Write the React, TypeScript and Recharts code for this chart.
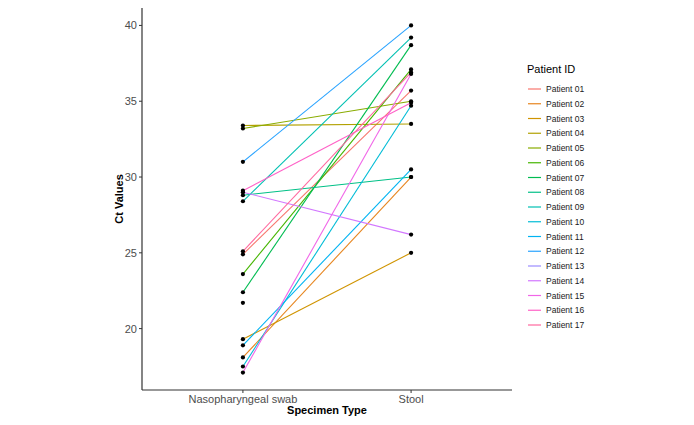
import React from 'react'
import {
    ComposedChart,
    Line,
    Scatter,
    XAxis,
    YAxis,
    Legend
} from 'recharts'

const specimenTypes = ['Nasopharyngeal swab', 'Stool']

const patientIds = [
    'Patient 01', 'Patient 02', 'Patient 03', 'Patient 04', 'Patient 05', 'Patient 06',
    'Patient 07', 'Patient 08', 'Patient 09', 'Patient 10', 'Patient 11', 'Patient 12',
    'Patient 13', 'Patient 14', 'Patient 15', 'Patient 16', 'Patient 17'
]

// Ct values per patient, same order as patientIds
const swabCt = [24.9, 18.1, 19.3, 33.4, 33.2, 23.6, 22.4, 28.8, 28.4, 17.5, 18.9, 31.0, 21.7, 29.0, 17.1, 29.1, 25.1]
const stoolCt: (number | null)[] = [35.7, 30.0, 25.0, 33.5, 35.0, 37.1, 38.7, 30.0, 39.2, 34.7, 30.5, 40.0, null, 26.2, 36.8, 34.9, 36.9]

const yTicks = [20, 25, 30, 35, 40]

// ggplot default hue palette for 17 groups
const colors = [
    '#F8766D', '#E7851E', '#D09400', '#B2A100', '#89AC00', '#45B500',
    '#00BC51', '#00C087', '#00C0B2', '#00BCD6', '#00B3F2', '#29A3FF',
    '#9C8DFF', '#D277FF', '#F166E8', '#FF61C7', '#FF689E'
]

const FONT = '"Liberation Sans", Arial, sans-serif'

const seriesData = patientIds.map((id, i) => ({
    id,
    color: colors[i],
    points: [
        { x: 1, y: swabCt[i] },
        { x: 2, y: stoolCt[i] }
    ]
}))

const allPoints = seriesData.flatMap((s) => s.points.filter((p) => p.y !== null))

const renderLegend = () => (
    <svg width={170} height={280} style={{ fontFamily: FONT, display: 'block' }}>
        <text x={7} y={16} fontSize={11} fill="#000">Patient ID</text>
        {patientIds.map((id, i) => {
            const cy = 32 + i * 14.75
            return (
                <g key={id}>
                    <line x1={8} x2={21} y1={cy} y2={cy} stroke={colors[i]} strokeWidth={1.2} />
                    <text x={26} y={cy + 3} fontSize={8.5} fill="#1a1a1a">{id}</text>
                </g>
            )
        })}
    </svg>
)

const App = () => {
    return (
        <div style={{ position: 'absolute', left: 0, top: 0, background: '#fff' }}>
            <ComposedChart
                width={694}
                height={425}
                // legend (170 wide) is added to the right offset by recharts
                margin={{ top: 8, right: 12, bottom: 1, left: 0 }}
                style={{ fontFamily: FONT }}
            >
                <XAxis
                    type="number"
                    dataKey="x"
                    domain={[0.4, 2.6]}
                    ticks={[1, 2]}
                    tickFormatter={(v: number) => specimenTypes[v - 1]}
                    height={34}
                    allowDataOverflow
                    axisLine={{ stroke: '#333', strokeWidth: 1.2 }}
                    tickLine={{ stroke: '#333' }}
                    tickSize={3}
                    tick={{ fill: '#4D4D4D', fontSize: 11 }}
                    label={{
                        content: () => (
                            <text x={327} y={414} textAnchor="middle" fontSize={11} fontWeight="bold" fill="#000" fontFamily={FONT}>
                                Specimen Type
                            </text>
                        )
                    }}
                />
                <YAxis
                    type="number"
                    dataKey="y"
                    domain={[15.95, 41.15]}
                    ticks={yTicks}
                    width={142}
                    allowDataOverflow
                    axisLine={{ stroke: '#333', strokeWidth: 1.2 }}
                    tickLine={{ stroke: '#333' }}
                    tickSize={3}
                    tickMargin={2}
                    tick={{ fill: '#4D4D4D', fontSize: 11 }}
                    label={{
                        content: () => (
                            <text
                                x={123}
                                y={199}
                                transform="rotate(-90 123 199)"
                                textAnchor="middle"
                                fontSize={11}
                                fontWeight="bold"
                                fill="#000"
                                fontFamily={FONT}
                            >
                                Ct Values
                            </text>
                        )
                    }}
                />
                <Legend
                    layout="vertical"
                    align="right"
                    verticalAlign="top"
                    content={renderLegend}
                    wrapperStyle={{ left: 520, top: 57, width: 170 }}
                />
                {seriesData.map((s) => (
                    <Line
                        key={s.id}
                        name={s.id}
                        data={s.points}
                        dataKey="y"
                        stroke={s.color}
                        strokeWidth={1.1}
                        dot={false}
                        activeDot={false}
                        isAnimationActive={false}
                    />
                ))}
                <Scatter
                    data={allPoints}
                    dataKey="y"
                    fill="#000"
                    legendType="none"
                    isAnimationActive={false}
                    shape={(p: any) => <circle cx={p.cx} cy={p.cy} r={2.1} fill="#000" />}
                />
            </ComposedChart>
        </div>
    )
}

export default App
